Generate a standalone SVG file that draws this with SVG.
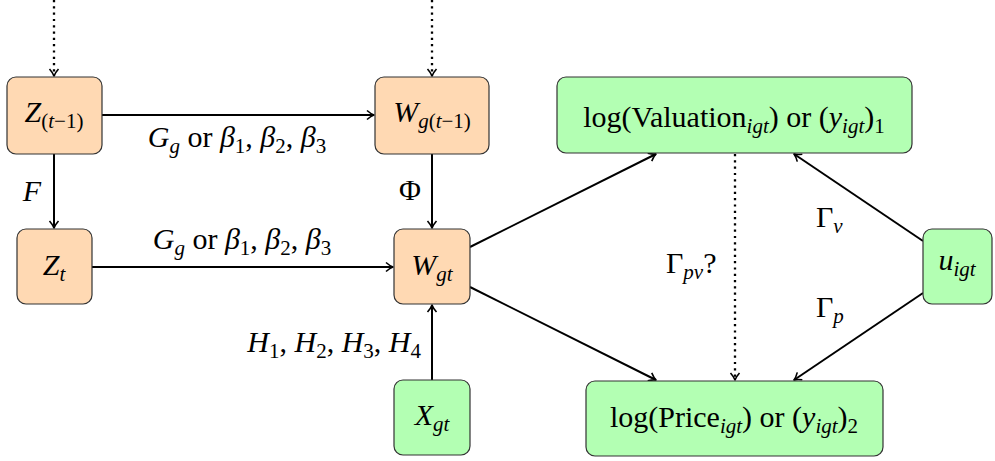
<svg xmlns="http://www.w3.org/2000/svg" width="995" height="461" viewBox="0 0 995 461">
<defs>
<marker id="arr" viewBox="-10 -6 12 12" markerWidth="12" markerHeight="12" refX="0" refY="0" orient="auto" markerUnits="userSpaceOnUse">
<path d="M -7,-4.5 Q -3,-1 0,0 Q -3,1 -7,4.5" fill="none" stroke="#000" stroke-width="1.6" stroke-linejoin="round"/>
</marker>
<style>
.orange{fill:#FFD9B3;stroke:#333;stroke-width:1.2}
.green{fill:#B3FFB3;stroke:#333;stroke-width:1.2}
text{font-family:"Liberation Serif","DejaVu Serif",serif;font-size:30px;fill:#000}
.m{font-style:italic}
.s{font-size:21px}
.e{stroke:#000;stroke-width:2;fill:none;marker-end:url(#arr)}
.d{stroke:#000;stroke-width:2.3;fill:none;stroke-dasharray:2.2 4.1;marker-end:url(#arr)}
</style>
</defs>
<g id="connectors" font-family="Liberation Serif, serif">
<line class="d" x1="54" y1="0" x2="54" y2="76"/>
<line class="d" x1="432" y1="0" x2="432" y2="76"/>
<line class="e" x1="102" y1="115" x2="374" y2="115"/>
<line class="e" x1="54" y1="154" x2="54" y2="228"/>
<line class="e" x1="432" y1="154" x2="432" y2="228"/>
<line class="e" x1="92" y1="267" x2="393" y2="267"/>
<line class="e" x1="432" y1="380" x2="432" y2="305"/>
<line class="e" x1="470" y1="247" x2="656" y2="154"/>
<line class="e" x1="470" y1="287" x2="656" y2="380"/>
<line class="e" x1="923" y1="241" x2="794" y2="154"/>
<line class="e" x1="923" y1="293" x2="794" y2="380"/>
<line class="d" x1="735" y1="154" x2="735" y2="380"/>
<text x="237" y="147" text-anchor="middle"><tspan class="m">G</tspan><tspan class="m s" dy="6">g</tspan><tspan dy="-6"> or </tspan><tspan class="m">β</tspan><tspan class="s" dy="6">1</tspan><tspan dy="-6">, </tspan><tspan class="m">β</tspan><tspan class="s" dy="6">2</tspan><tspan dy="-6">, </tspan><tspan class="m">β</tspan><tspan class="s" dy="6">3</tspan></text>
<text x="242" y="249" text-anchor="middle"><tspan class="m">G</tspan><tspan class="m s" dy="6">g</tspan><tspan dy="-6"> or </tspan><tspan class="m">β</tspan><tspan class="s" dy="6">1</tspan><tspan dy="-6">, </tspan><tspan class="m">β</tspan><tspan class="s" dy="6">2</tspan><tspan dy="-6">, </tspan><tspan class="m">β</tspan><tspan class="s" dy="6">3</tspan></text>
<text x="32" y="201" text-anchor="middle" class="m">F</text>
<text x="410" y="200" text-anchor="middle">Φ</text>
<text x="421" y="352" text-anchor="end"><tspan class="m">H</tspan><tspan class="s" dy="6">1</tspan><tspan dy="-6">, </tspan><tspan class="m">H</tspan><tspan class="s" dy="6">2</tspan><tspan dy="-6">, </tspan><tspan class="m">H</tspan><tspan class="s" dy="6">3</tspan><tspan dy="-6">, </tspan><tspan class="m">H</tspan><tspan class="s" dy="6">4</tspan></text>
<text x="816" y="227">Γ<tspan class="m s" dy="6">v</tspan></text>
<text x="666" y="273">Γ<tspan class="m s" dy="6">pv</tspan><tspan dy="-6">?</tspan></text>
<text x="816" y="317">Γ<tspan class="m s" dy="6">p</tspan></text>
</g>
<g id="z_prev">
<rect class="orange" x="7" y="77" width="95" height="77" rx="9"/>
<text x="54" y="122" text-anchor="middle"><tspan class="m">Z</tspan><tspan class="s" dy="6">(<tspan class="m">t</tspan>−1)</tspan></text>
</g>
<g id="w_prev">
<rect class="orange" x="375" y="77" width="114" height="77" rx="9"/>
<text x="432" y="122" text-anchor="middle"><tspan class="m">W</tspan><tspan class="s" dy="6"><tspan class="m">g</tspan>(<tspan class="m">t</tspan>−1)</tspan></text>
</g>
<g id="z_t">
<rect class="orange" x="17" y="229" width="75" height="75" rx="9"/>
<text x="54" y="275" text-anchor="middle"><tspan class="m">Z</tspan><tspan class="m s" dy="6">t</tspan></text>
</g>
<g id="w_gt">
<rect class="orange" x="394" y="229" width="76" height="75" rx="9"/>
<text x="432" y="275" text-anchor="middle"><tspan class="m">W</tspan><tspan class="m s" dy="6">gt</tspan></text>
</g>
<g id="x_gt">
<rect class="green" x="394" y="380" width="76" height="75" rx="9"/>
<text x="432" y="425" text-anchor="middle"><tspan class="m">X</tspan><tspan class="m s" dy="6">gt</tspan></text>
</g>
<g id="valuation">
<rect class="green" x="557" y="77" width="355" height="76" rx="9"/>
<text x="734" y="127" text-anchor="middle">log(Valuation<tspan class="m s" dy="6">igt</tspan><tspan dy="-6">) or (</tspan><tspan class="m">y</tspan><tspan class="m s" dy="6">igt</tspan><tspan dy="-6">)</tspan><tspan class="s" dy="6">1</tspan></text>
</g>
<g id="price">
<rect class="green" x="586" y="381" width="297" height="75" rx="9"/>
<text x="734" y="427" text-anchor="middle">log(Price<tspan class="m s" dy="6">igt</tspan><tspan dy="-6">) or (</tspan><tspan class="m">y</tspan><tspan class="m s" dy="6">igt</tspan><tspan dy="-6">)</tspan><tspan class="s" dy="6">2</tspan></text>
</g>
<g id="u_igt">
<rect class="green" x="923" y="229" width="69" height="75" rx="9"/>
<text x="957" y="270" text-anchor="middle"><tspan class="m">u</tspan><tspan class="m s" dy="6">igt</tspan></text>
</g>
</svg>
